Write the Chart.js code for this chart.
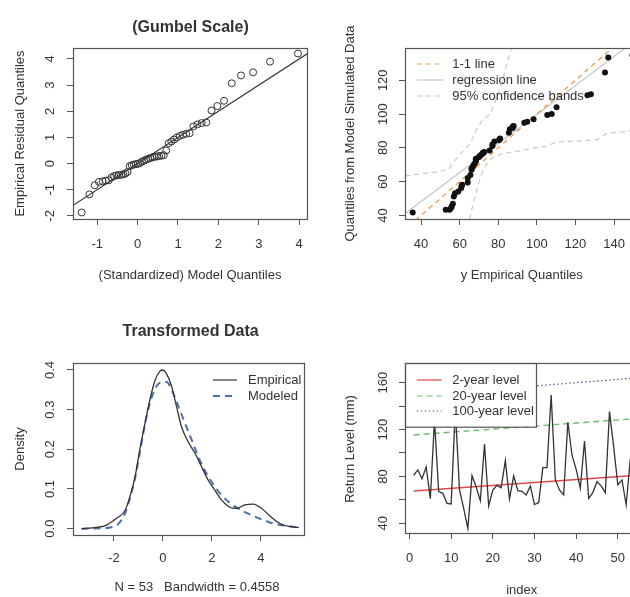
<!DOCTYPE html>
<html lang="en">
<head>
<meta charset="UTF-8">
<title>GEV diagnostics</title>
<script src="https://cdn.jsdelivr.net/npm/chart.js"></script>
<style>
  html, body { margin: 0; padding: 0; overflow: hidden; background: #fff; }
  body { position: relative; width: 630px; height: 597px; }
  canvas { position: absolute; }
</style>
</head>
<body>
<canvas id="p1" width="315" height="300" style="left:0;top:0"></canvas>
<canvas id="p2" width="330" height="300" style="left:315px;top:0"></canvas>
<canvas id="p3" width="315" height="297" style="left:0;top:300px"></canvas>
<canvas id="p4" width="330" height="297" style="left:315px;top:300px"></canvas>
<script>
// panel 1: qq plot on gumbel scale
var p1ModelQ = [-1.385, -1.193, -1.061, -0.957, -0.867, -0.787, -0.714, -0.647, -0.583, -0.523,
  -0.464, -0.408, -0.353, -0.300, -0.248, -0.196, -0.145, -0.094, -0.043, 0.007,
  0.057, 0.108, 0.158, 0.210, 0.261, 0.314, 0.367, 0.420, 0.475, 0.531,
  0.589, 0.648, 0.708, 0.771, 0.836, 0.903, 0.973, 1.046, 1.123, 1.204,
  1.289, 1.381, 1.479, 1.586, 1.700, 1.830, 1.975, 2.140, 2.330, 2.560,
  2.860, 3.280, 3.970];
var p1ResidQ = [-1.87, -1.18, -0.83, -0.70, -0.68, -0.65, -0.64, -0.53, -0.48, -0.45,
  -0.44, -0.43, -0.41, -0.38, -0.32, -0.10, -0.06, -0.04, -0.02, -0.01,
  0.02, 0.07, 0.11, 0.15, 0.18, 0.21, 0.24, 0.26, 0.27, 0.29,
  0.30, 0.32, 0.50, 0.78, 0.84, 0.92, 1.00, 1.06, 1.10, 1.14,
  1.16, 1.42, 1.50, 1.55, 1.57, 2.03, 2.20, 2.40, 3.07, 3.37,
  3.49, 3.90, 4.21];
var p1LineX = [-2, 5];
var p1LineY = [-2, 5];
var p1XTicks = [-1, 0, 1, 2, 3, 4];
var p1YTicks = [-2, -1, 0, 1, 2, 3, 4];

// panel 2: empirical vs simulated quantiles
var p2EmpQ = [35.7, 52.8, 54.8, 55.6, 55.9, 56.5, 57, 57.6, 59.3, 60.8,
  61, 61.3, 64.2, 64.2, 65.6, 66.2, 66.2, 67, 67.3, 67.9,
  68.4, 68.4, 68.4, 69.9, 70.4, 71, 71.9, 71.9, 72.4, 72.7,
  75.5, 77, 77, 78, 80.4, 80.7, 81, 85.5, 86, 87.5,
  87.5, 88, 93.5, 95, 98.3, 105.4, 107.7, 110.2, 126.2, 128,
  135.3, 137, 149.5];
var p2SimQ = [41.8, 43.4, 43.4, 44.4, 45.3, 46.9, 51.2, 53.2, 54.2, 56.2,
  57.5, 58.1, 59.5, 62.1, 64.0, 67.0, 68.0, 68.9, 70.0, 70.9,
  72.0, 72.9, 73.5, 74.5, 75.2, 75.8, 76.5, 77.0, 77.2, 77.5,
  78.4, 81.1, 82.0, 83.7, 84.5, 85.1, 85.5, 89.0, 91.0, 91.8,
  92.6, 93.0, 94.9, 95.5, 96.9, 99.5, 100.0, 104.0, 111.2, 111.8,
  124.6, 133.5, 134.8];
var p2OneX = [30, 155];
var p2OneY = [30, 155];
var p2RegX = [30, 155];
var p2RegY = [39.5, 147];
var p2BandHiX = [31.7, 50, 54.5, 56, 62, 65.5, 69, 71.5, 75.8, 78, 81.8, 84.5, 87];
var p2BandHiY = [63.5, 66, 67.5, 70.5, 78.5, 82.5, 91.5, 96, 100, 106, 118, 130, 139.1];
var p2BandLoX = [65.3, 66.3, 68.9, 71.5, 74, 76.6, 82.6, 88.7, 97.4, 105, 110.3, 120.7, 131, 136.2, 148.3, 153];
var p2BandLoY = [37.9, 43.4, 55.2, 65, 70.5, 73.9, 76.8, 77.7, 79.7, 81, 83.5, 84, 84.8, 88.5, 90, 90.5];
var p2XTicks = [40, 60, 80, 100, 120, 140];
var p2YTicks = [40, 60, 80, 100, 120];

// panel 3: densities of transformed data
var p3EmpX = [-3.32, -2.71, -2.30, -1.89, -1.55, -1.35, -1.14, -0.94, -0.73, -0.53, -0.33, -0.12, -0.01,
  0.15, 0.36, 0.56, 0.76, 1.03, 1.31, 1.58, 1.85, 2.12, 2.40, 2.73, 3.01, 3.35, 3.69, 4.03, 4.37, 4.78, 5.18, 5.55];
var p3EmpY = [0.0, 0.003, 0.009, 0.026, 0.045, 0.08, 0.13, 0.20, 0.266, 0.325, 0.372, 0.397, 0.400,
  0.39, 0.358, 0.307, 0.257, 0.219, 0.190, 0.156, 0.122, 0.097, 0.072, 0.054, 0.051, 0.060, 0.062, 0.051, 0.032, 0.013, 0.005, 0.003];
var p3ModX = [-3.32, -2.57, -2.16, -1.82, -1.55, -1.35, -1.14, -0.94, -0.67, -0.40, -0.12, 0.15,
  0.42, 0.69, 0.96, 1.23, 1.50, 1.78, 2.12, 2.46, 2.87, 3.27, 3.69, 4.10, 4.50, 5.05, 5.55];
var p3ModY = [0.0, 0.001, 0.003, 0.012, 0.038, 0.076, 0.126, 0.193, 0.282, 0.341, 0.368, 0.370,
  0.341, 0.299, 0.257, 0.215, 0.173, 0.139, 0.106, 0.080, 0.059, 0.044, 0.032, 0.022, 0.013, 0.007, 0.003];
var p3XTicks = [-2, 0, 2, 4];
var p3YTicks = [0, 0.1, 0.2, 0.3, 0.4];

// panel 4: series with return levels
var p4Values = [81, 85.5, 78, 88, 61, 128, 67, 65.6, 57, 56.5,
  137, 68.4, 52.8, 35.7, 80.7, 71, 59.3, 107.7, 54.8, 68.4,
  72.4, 70.4, 93.5, 60.8, 80.4, 67.9, 67.3, 64.2, 71.9, 55.9,
  57.6, 87.5, 87.5, 149.5, 77, 68.4, 64.2, 126.2, 98.3, 86,
  69.9, 110.2, 61.3, 66.2, 75.5, 71.9, 66.2, 135.3, 105.4, 72.7,
  77, 55.6, 95];
var p4LevelIdx = [1, 53];
var p4Level2 = [67.6, 80.6];
var p4Level20 = [115.4, 129];
var p4Level100 = [149, 163.7];
var p4XTicks = [0, 10, 20, 30, 40, 50];
var p4YTicks = [40, 60, 80, 100, 120, 140, 160];
var p4YLabels = [40, 80, 120, 160];

var FONT = '"Liberation Sans", Arial, Helvetica, sans-serif';
var INK = '#333';
Chart.defaults.font.family = FONT;
Chart.defaults.font.size = 13;
Chart.defaults.color = INK;

function pts(xs, ys) {
  return xs.map(function (x, i) { return { x: x, y: ys[i] }; });
}

// x axis keeps the full bottom strip so its labels are not clipped away
function axes(o) {
  var grid = { drawOnChartArea: false, drawTicks: true, tickLength: 6, color: '#555', lineWidth: 1 };
  return {
    x: {
      type: 'linear', min: o.xmin, max: o.xmax,
      afterFit: function (s) { s.height = o.xh; },
      afterBuildTicks: function (s) { s.ticks = o.xticks.map(function (v) { return { value: v }; }); },
      grid: grid, border: { display: false },
      ticks: { padding: o.xpad, autoSkip: false, maxRotation: 0, callback: function (v) { return String(v); } }
    },
    y: {
      type: 'linear', min: o.ymin, max: o.ymax,
      afterFit: function (s) { s.width = 0; },
      afterBuildTicks: function (s) { s.ticks = o.yticks.map(function (v) { return { value: v }; }); },
      grid: grid, border: { display: false },
      ticks: { display: false }
    }
  };
}

// box, rotated y labels, titles and legends like base R graphics
var rDecor = {
  id: 'rDecor',
  afterDatasetsDraw: function (chart, args, o) {
    var ctx = chart.ctx, a = chart.chartArea;
    ctx.save();
    if (o.legend) {
      var lg = o.legend;
      if (lg.box) {
        ctx.fillStyle = '#fff';
        ctx.fillRect(lg.box[0], lg.box[1], lg.box[2] - lg.box[0], lg.box[3] - lg.box[1]);
        ctx.strokeStyle = '#555';
        ctx.lineWidth = 1.2;
        ctx.strokeRect(lg.box[0] + 0.5, lg.box[1] + 0.5, lg.box[2] - lg.box[0], lg.box[3] - lg.box[1]);
      }
      lg.items.forEach(function (it) {
        ctx.strokeStyle = it.color;
        ctx.lineWidth = it.width || 1.2;
        ctx.setLineDash(it.dash || []);
        ctx.beginPath();
        ctx.moveTo(lg.lineX[0], it.y);
        ctx.lineTo(lg.lineX[1], it.y);
        ctx.stroke();
        ctx.setLineDash([]);
        ctx.fillStyle = INK;
        ctx.font = '13px ' + FONT;
        ctx.textAlign = 'left';
        ctx.textBaseline = 'middle';
        ctx.fillText(it.label, lg.textX, it.y);
      });
    }
    ctx.strokeStyle = '#555';
    ctx.lineWidth = 1.2;
    ctx.setLineDash([]);
    ctx.strokeRect(Math.round(a.left) + 0.5, Math.round(a.top) + 0.5,
      Math.round(a.right - a.left), Math.round(a.bottom - a.top));

    var ys = chart.scales.y;
    ctx.fillStyle = INK;
    ctx.font = '13px ' + FONT;
    ctx.textAlign = 'center';
    ctx.textBaseline = 'middle';
    o.yLabels.forEach(function (v) {
      ctx.save();
      ctx.translate(o.yLabelX, ys.getPixelForValue(v));
      ctx.rotate(-Math.PI / 2);
      ctx.fillText(o.yFmt ? o.yFmt(v) : String(v), 0, 0);
      ctx.restore();
    });
    o.texts.forEach(function (t) {
      ctx.save();
      ctx.font = (t.bold ? 'bold ' : '') + (t.size || 13) + 'px ' + FONT;
      ctx.translate(t.x, t.y);
      if (t.rot) ctx.rotate(-Math.PI / 2);
      ctx.fillText(t.text, 0, 0);
      ctx.restore();
    });
    ctx.restore();
  }
};

function base(padding, scales, deco) {
  return {
    responsive: false,
    animation: false,
    layout: { padding: padding },
    scales: scales,
    plugins: { legend: { display: false }, tooltip: { enabled: false }, rDecor: deco }
  };
}

new Chart(document.getElementById('p1'), {
  type: 'scatter',
  data: {
    datasets: [
      { data: pts(p1ModelQ, p1ResidQ), pointRadius: 3.5, pointBackgroundColor: 'rgba(0,0,0,0)',
        pointBorderColor: INK, pointBorderWidth: 1 },
      { data: pts(p1LineX, p1LineY), showLine: true, pointRadius: 0, borderColor: INK, borderWidth: 1.1 }
    ]
  },
  options: base({ left: 73, top: 48, right: 7, bottom: 0 },
    axes({ xmin: -1.6, xmax: 4.2, ymin: -2.12, ymax: 4.42, xticks: p1XTicks, yticks: p1YTicks, xpad: 12, xh: 81 }),
    { yLabels: p1YTicks, yLabelX: 50,
      texts: [
        { text: '(Gumbel Scale)', x: 190.5, y: 27.5, bold: true, size: 16 },
        { text: 'Empirical Residual Quantiles', x: 20, y: 133.5, rot: true },
        { text: '(Standardized) Model Quantiles', x: 190, y: 275 }
      ] }),
  plugins: [rDecor]
});

new Chart(document.getElementById('p2'), {
  type: 'scatter',
  data: {
    datasets: [
      { data: pts(p2EmpQ, p2SimQ), pointRadius: 3, pointBackgroundColor: '#111', pointBorderWidth: 0 },
      { data: pts(p2OneX, p2OneY), showLine: true, pointRadius: 0, borderColor: '#e8a15c', borderWidth: 1.4, borderDash: [5, 4] },
      { data: pts(p2RegX, p2RegY), showLine: true, pointRadius: 0, borderColor: '#c4c4c4', borderWidth: 1.2 },
      { data: pts(p2BandHiX, p2BandHiY), showLine: true, pointRadius: 0, borderColor: '#cccccc', borderWidth: 1.3, borderDash: [5, 4] },
      { data: pts(p2BandLoX, p2BandLoY), showLine: true, pointRadius: 0, borderColor: '#cccccc', borderWidth: 1.3, borderDash: [5, 4] }
    ]
  },
  options: base({ left: 90, top: 48, right: 7, bottom: 0 },
    axes({ xmin: 31.7, xmax: 152.4, ymin: 37.9, ymax: 139.1, xticks: p2XTicks, yticks: p2YTicks, xpad: 12, xh: 81 }),
    { yLabels: p2YTicks, yLabelX: 68.3,
      legend: { lineX: [101.7, 128.3], textX: 137.3, items: [
        { label: '1-1 line', color: '#e8a15c', dash: [5, 4], y: 64 },
        { label: 'regression line', color: '#c4c4c4', y: 80 },
        { label: '95% confidence bands', color: '#cccccc', dash: [5, 4], y: 96 }
      ] },
      texts: [
        { text: 'Quantiles from Model Simulated Data', x: 35, y: 133.5, rot: true },
        { text: 'y Empirical Quantiles', x: 206.7, y: 275 }
      ] }),
  plugins: [rDecor]
});

new Chart(document.getElementById('p3'), {
  type: 'scatter',
  data: {
    datasets: [
      { data: pts(p3EmpX, p3EmpY), showLine: true, pointRadius: 0, borderColor: INK, borderWidth: 1.3,
        cubicInterpolationMode: 'monotone' },
      { data: pts(p3ModX, p3ModY), showLine: true, pointRadius: 0, borderColor: '#4f6fa8', borderWidth: 2,
        borderDash: [7, 5], cubicInterpolationMode: 'monotone' }
    ]
  },
  options: base({ left: 73, top: 63, right: 11, bottom: 0 },
    axes({ xmin: -3.67, xmax: 5.76, ymin: -0.016, ymax: 0.4176, xticks: p3XTicks, yticks: p3YTicks, xpad: 9.5, xh: 62 }),
    { yLabels: p3YTicks, yLabelX: 50, yFmt: function (v) { return v.toFixed(1); },
      legend: { lineX: [213, 237], textX: 248, items: [
        { label: 'Empirical', color: INK, y: 80 },
        { label: 'Modeled', color: '#4f6fa8', dash: [7, 5], width: 2, y: 96 }
      ] },
      texts: [
        { text: 'Transformed Data', x: 190.6, y: 32, bold: true, size: 16 },
        { text: 'Density', x: 20, y: 149, rot: true },
        { text: 'N = 53   Bandwidth = 0.4558', x: 197, y: 287 }
      ] }),
  plugins: [rDecor]
});

new Chart(document.getElementById('p4'), {
  type: 'scatter',
  data: {
    datasets: [
      { data: p4Values.map(function (v, i) { return { x: i + 1, y: v }; }), showLine: true, pointRadius: 0,
        borderColor: INK, borderWidth: 1.3 },
      { data: pts(p4LevelIdx, p4Level2), showLine: true, pointRadius: 0, borderColor: '#e04848', borderWidth: 1.4 },
      { data: pts(p4LevelIdx, p4Level20), showLine: true, pointRadius: 0, borderColor: '#6cbf6c', borderWidth: 1.4, borderDash: [6, 4] },
      { data: pts(p4LevelIdx, p4Level100), showLine: true, pointRadius: 0, borderColor: '#5a5aa8', borderWidth: 1.3, borderDash: [1.5, 2.5] }
    ]
  },
  options: base({ left: 90, top: 63, right: 6, bottom: 0 },
    axes({ xmin: -1.08, xmax: 55.08, ymin: 31.7, ymax: 176.8, xticks: p4XTicks, yticks: p4YTicks, xpad: 11.5, xh: 64 }),
    { yLabels: p4YLabels, yLabelX: 68.3,
      legend: { box: [90, 63, 221, 126.7], lineX: [101.7, 126.7], textX: 137.3, items: [
        { label: '2-year level', color: '#e04848', y: 80 },
        { label: '20-year level', color: '#6cbf6c', dash: [6, 4], y: 96 },
        { label: '100-year level', color: '#5a5aa8', dash: [1.5, 2.5], y: 111 }
      ] },
      texts: [
        { text: 'Return Level (mm)', x: 35, y: 149, rot: true },
        { text: 'index', x: 206.7, y: 290 }
      ] }),
  plugins: [rDecor]
});
</script>
</body>
</html>
